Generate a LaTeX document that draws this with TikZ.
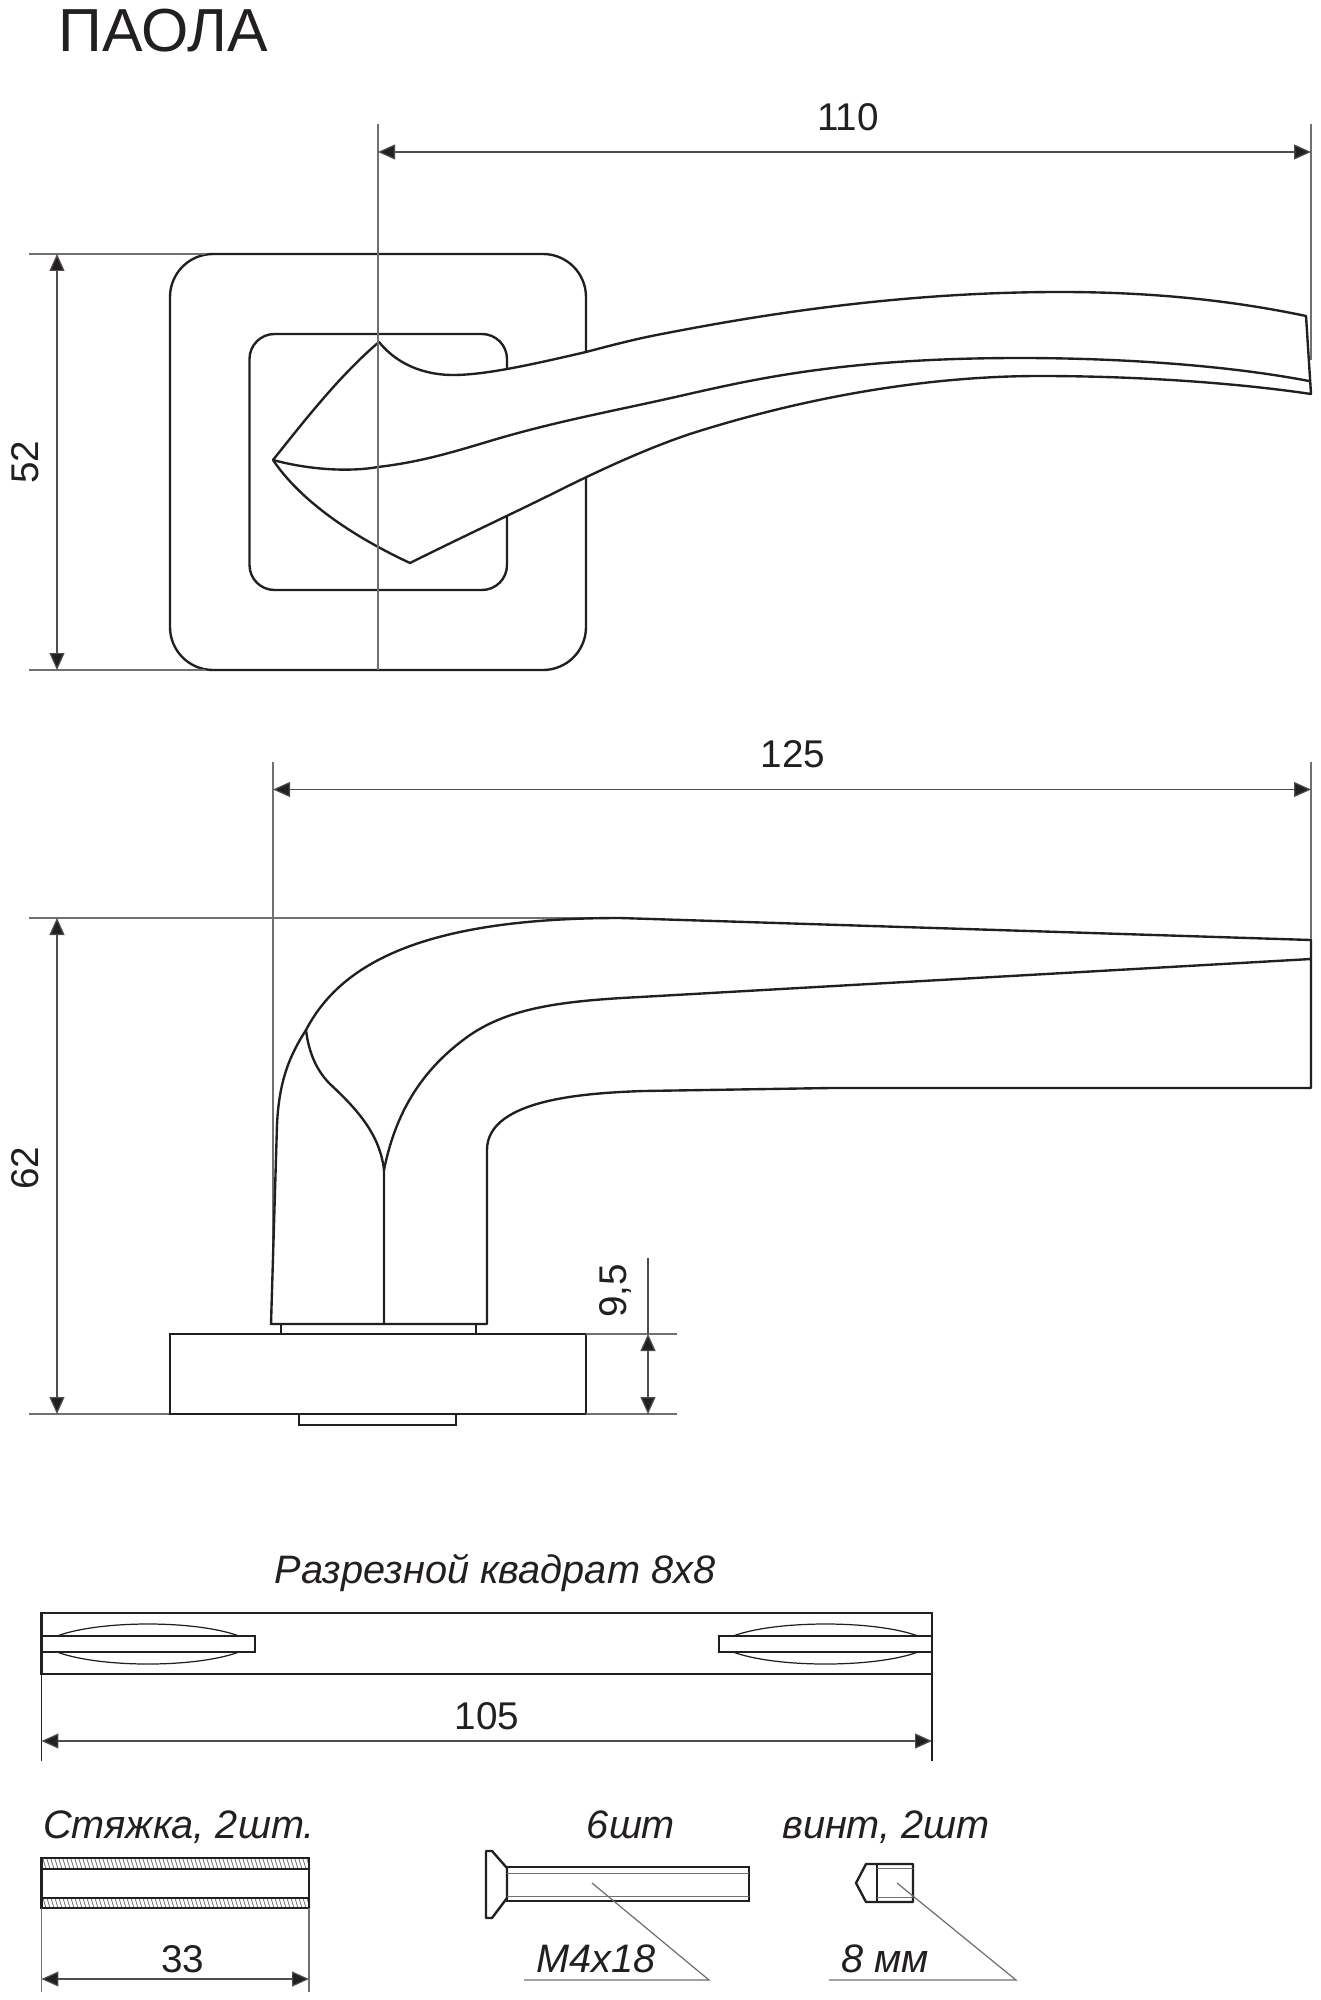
\documentclass[tikz,border=0pt]{standalone}
\usepackage{fontspec}
\setmainfont{Liberation Sans}
\usetikzlibrary{arrows.meta}
\definecolor{ink}{HTML}{231F20}
\definecolor{thin}{HTML}{707070}
\tikzset{
  outline/.style={draw=ink,line width=1.35pt,line join=round},
  heavy/.style={draw=ink,line width=1.55pt,line join=miter},
  extline/.style={draw=thin,line width=0.7pt},
  dimline/.style={draw=ink!80,line width=0.7pt,{Triangle[length=0.34cm,width=0.3cm,fill=ink]}-{Triangle[length=0.34cm,width=0.3cm,fill=ink]}},
  dimtext/.style={font=\fontsize{22pt}{24pt}\selectfont,inner sep=0pt,anchor=base,text=ink},
  captext/.style={font=\fontsize{22.6pt}{24pt}\selectfont\itshape,inner sep=0pt,anchor=base,text=ink}
}
\begin{document}
\begin{tikzpicture}[x=0.02cm,y=-0.02cm]
\path[use as bounding box,fill=white] (0,0) rectangle (1320,2000);
\node[inner sep=0pt,anchor=base west,font=\fontsize{34.6pt}{36pt}\selectfont,text=ink] (title) at (58,52) {ПАОЛА};

% ---------- top view
\draw[outline,rounded corners=0.86cm] (170,254) rectangle (586,670);
\draw[outline,rounded corners=0.5cm] (249.5,334) rectangle (507,590);
\coordinate (L) at (273,460);
\coordinate (T) at (379,342);
\coordinate (B) at (410,563);
\draw[outline,fill=white]
  (L) .. controls (305,420) and (340,375) .. (T)
  .. controls (400,368) and (430,375) .. (453,375)
  .. controls (485,375) and (530,365) .. (586,352)
  .. controls (620,343) and (640,338) .. (667,333)
  .. controls (760,315) and (900,292) .. (1060,292)
  .. controls (1150,292) and (1230,300) .. (1306,316)
  -- (1311,394)
  .. controls (1230,382) and (1130,376) .. (1040,376)
  .. controls (930,376) and (810,396) .. (693,433)
  .. controls (650,447) and (600,470) .. (560,490)
  .. controls (520,510) and (460,538) .. (B)
  .. controls (350,535) and (300,500) .. (L)
  -- cycle;
\draw[outline] (L) .. controls (310,470) and (350,472) .. (378,467)
  .. controls (420,462) and (450,453) .. (490,441)
  .. controls (560,420) and (620,410) .. (693,393)
  .. controls (760,378) and (850,358) .. (1020,358)
  .. controls (1110,358) and (1220,364) .. (1309,381);
\coordinate (cTop) at (378,124);
\coordinate (cBot) at (378,670);
\coordinate (r110top) at (1311,124);
\coordinate (r110bot) at (1311,360);
\draw[extline] (cTop) -- (cBot);
\draw[extline] (r110top) -- (r110bot);
\coordinate (e52a) at (29,254);
\coordinate (e52aEnd) at (205,254);
\coordinate (e52b) at (29,670);
\coordinate (e52bEnd) at (205,670);
\draw[extline] (e52a) -- (e52aEnd);
\draw[extline] (e52b) -- (e52bEnd);
\coordinate (d110a) at (378,152);
\coordinate (d110b) at (1311,152);
\draw[dimline] (d110a) -- (d110b);
\node[dimtext] (t110) at (848,131) {110};
\coordinate (d52a) at (57,254);
\coordinate (d52b) at (57,670);
\draw[dimline] (d52a) -- (d52b);
\node[dimtext,rotate=90] (t52) at (38,462) {52};

% ---------- side view
\draw[extline] (29,918) -- (610,918);
\draw[extline] (29,1414) -- (170,1414);
\draw[extline] (273,762) -- (273,1250);
\draw[extline] (1311,762) -- (1311,940);
\draw[heavy] (299,1414) rectangle (456,1425);
\draw[heavy] (281,1324) rectangle (476,1334);
\draw[heavy,fill=white] (170,1334) rectangle (586,1414);
\draw[outline,fill=white]
  (271,1324) -- (277,1125)
  .. controls (279,1080) and (290,1055) .. (306,1030)
  .. controls (340,965) and (420,918) .. (620,918)
  -- (1311,940) -- (1311,1088) -- (831,1088) -- (643,1091)
  .. controls (590,1093) and (487,1098) .. (487,1150)
  -- (487,1324) -- cycle;
\draw[outline] (1311,959) -- (640,997)
  .. controls (560,1001) and (510,1008) .. (470,1035)
  .. controls (420,1070) and (395,1115) .. (384,1170)
  -- (384,1324);
\draw[outline] (306,1030) .. controls (309,1055) and (318,1072) .. (330,1084)
  .. controls (358,1110) and (380,1135) .. (384,1170);
\draw[heavy] (271,1324) -- (487,1324);
\coordinate (d125a) at (273,789.5);
\coordinate (d125b) at (1311,789.5);
\draw[dimline] (d125a) -- (d125b);
\node[dimtext] (t125) at (793,767) {125};
\coordinate (d62a) at (57,918);
\coordinate (d62b) at (57,1414);
\draw[dimline] (d62a) -- (d62b);
\node[dimtext,rotate=90] (t62) at (38,1168) {62};
\draw[extline] (586,1334) -- (677,1334);
\draw[extline] (586,1414) -- (677,1414);
\coordinate (d95top) at (648,1258);
\coordinate (d95a) at (648,1334);
\coordinate (d95b) at (648,1414);
\draw[extline,draw=ink!80] (d95top) -- (d95a);
\draw[dimline] (d95a) -- (d95b);
\node[dimtext,rotate=90] (t95) at (626,1291) {9,5};

% ---------- split square
\node[captext] (tsq) at (495,1583) {Разрезной квадрат 8х8};
\draw[heavy] (41.5,1613) rectangle (932,1674);
\draw[heavy] (41.5,1636) rectangle (255,1652);
\draw[heavy] (719,1636) rectangle (932,1652);
\draw[draw=ink,line width=0.7pt] (57,1636) .. controls (100,1620) and (196,1620) .. (239,1636);
\draw[draw=ink,line width=0.7pt] (57,1652) .. controls (100,1668) and (196,1668) .. (239,1652);
\draw[draw=ink,line width=0.7pt] (733,1636) .. controls (776,1620) and (875,1620) .. (918,1636);
\draw[draw=ink,line width=0.7pt] (733,1652) .. controls (776,1668) and (875,1668) .. (918,1652);
\draw[extline,draw=ink] (41.5,1674) -- (41.5,1761);
\draw[extline,draw=ink] (932,1674) -- (932,1761);
\coordinate (d105a) at (41.5,1741);
\coordinate (d105b) at (932,1741);
\draw[dimline] (d105a) -- (d105b);
\node[dimtext] (t105) at (487,1729) {105};

% ---------- sleeve
\node[captext] (tst) at (179,1838) {Стяжка, 2шт.};
\foreach \hx in {43,47,...,307}{
  \draw[draw=thin,line width=0.45pt] (\hx,1859) -- (\hx+3,1869);
  \draw[draw=thin,line width=0.45pt] (\hx,1898) -- (\hx+3,1908);
}
\draw[heavy] (41.5,1858) rectangle (309,1908);
\draw[draw=ink,line width=0.8pt] (41.5,1869) -- (309,1869);
\draw[draw=ink,line width=0.8pt] (41.5,1898) -- (309,1898);
\draw[extline] (41.5,1908) -- (41.5,1992);
\draw[extline] (309,1908) -- (309,1992);
\coordinate (d33a) at (41.5,1979);
\coordinate (d33b) at (309,1979);
\draw[dimline] (d33a) -- (d33b);
\node[dimtext] (t33) at (183,1972) {33};

% ---------- bolt
\node[captext] (t6) at (631,1838) {6шт};
\draw[outline] (486,1851) -- (492,1851) -- (507,1868) -- (507,1898) -- (492,1918) -- (486,1918) -- cycle;
\draw[heavy] (507,1867) rectangle (749,1901);
\draw[extline,line width=0.5pt] (507,1873) -- (749,1873);
\draw[extline,line width=0.5pt] (507,1896) -- (749,1896);
\coordinate (l1a) at (592,1883);
\coordinate (l1b) at (709,1980);
\coordinate (l1c) at (524,1980);
\draw[extline] (l1a) -- (l1b) -- (l1c);
\node[captext] (tm4) at (596,1972) {М4х18};

% ---------- screw
\node[captext] (tv) at (886,1838) {винт, 2шт};
\draw[outline] (866,1864) -- (856,1883) -- (866,1902) -- (913,1902) -- (913,1864) -- cycle;
\draw[outline] (877,1864) -- (877,1902);
\draw[extline,line width=0.5pt] (877,1868) -- (913,1868);
\draw[extline,line width=0.5pt] (877,1897) -- (913,1897);
\coordinate (l2a) at (897,1883);
\coordinate (l2b) at (1016,1980);
\coordinate (l2c) at (829,1980);
\draw[extline] (l2a) -- (l2b) -- (l2c);
\node[captext] (t8) at (885,1972) {8 мм};
\end{tikzpicture}
\end{document}
